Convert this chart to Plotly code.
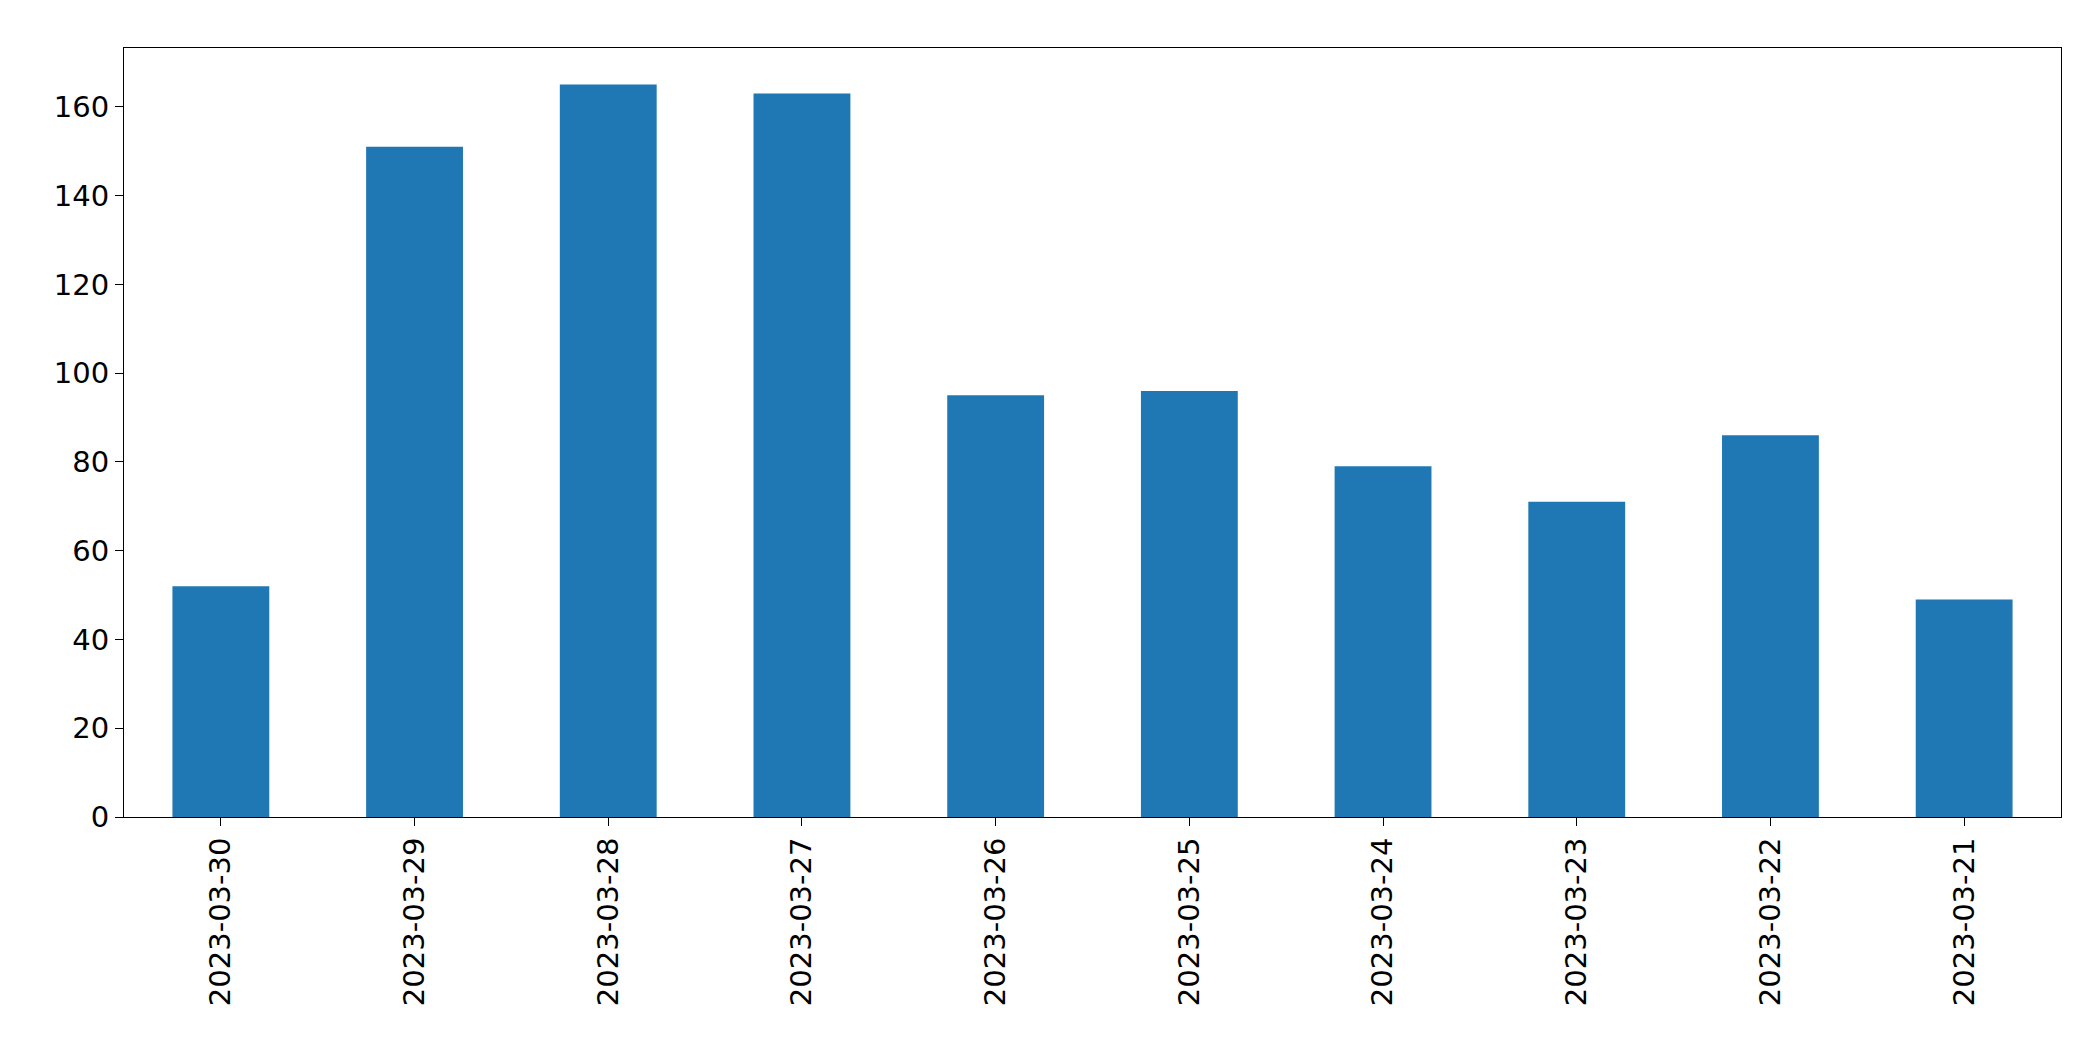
import plotly.graph_objects as go

dates = ["2023-03-30", "2023-03-29", "2023-03-28", "2023-03-27", "2023-03-26",
         "2023-03-25", "2023-03-24", "2023-03-23", "2023-03-22", "2023-03-21"]
counts = [52, 151, 165, 163, 95, 96, 79, 71, 86, 49]

fig = go.Figure(go.Bar(x=dates, y=counts, width=0.5, marker_color="#1f77b4",
                       marker_line_width=0))

axis_style = dict(showline=True, linecolor="black", linewidth=1, mirror=True,
                  ticks="outside", ticklen=8, tickcolor="black", showgrid=False,
                  zeroline=False, tickfont=dict(size=29, color="black"))

fig.update_layout(
    width=2093, height=1061,
    plot_bgcolor="white", paper_bgcolor="white",
    font=dict(family="DejaVu Sans"),
    margin=dict(l=116, r=40, t=40, b=252),
    showlegend=False,
)
fig.update_xaxes(type="category", tickangle=-90, range=[-0.5, 9.5], **axis_style)
fig.update_yaxes(range=[0, 173.25], tickvals=list(range(0, 161, 20)), **axis_style)

fig.write_html("out.html")
